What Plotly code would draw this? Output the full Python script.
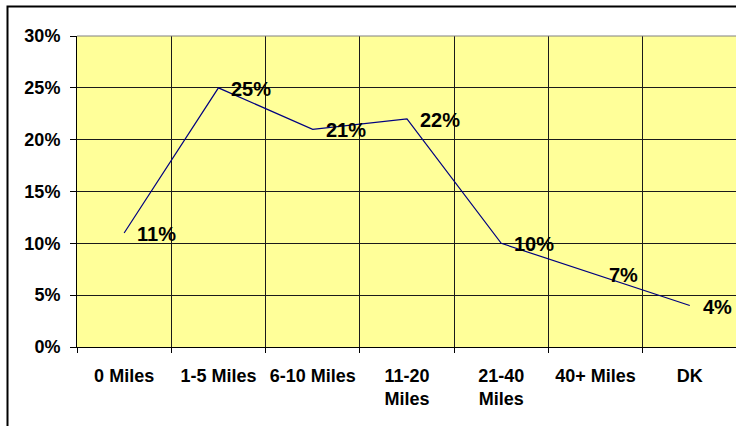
import plotly.graph_objects as go

# Share of respondents by distance band
distance_bands = ["0 Miles", "1-5 Miles", "6-10 Miles", "11-20<br>Miles",
                  "21-40<br>Miles", "40+ Miles", "DK"]
share_pct = [11, 25, 21, 22, 10, 7, 4]
y_ticks = [0, 5, 10, 15, 20, 25, 30]

W, H = 736, 426
L, R, T, B = 77, 0, 36, 79
plot_w = W - L - R
plot_h = H - T - B

font_family = "Liberation Sans, Arial, sans-serif"

fig = go.Figure()
fig.add_trace(go.Scatter(
    x=distance_bands,
    y=share_pct,
    mode="lines",
    line=dict(color="#000080", width=1.2),
    hoverinfo="skip",
    showlegend=False,
))

# value labels to the right of each point
for cat, v in zip(distance_bands, share_pct):
    fig.add_annotation(
        x=cat, y=v, text=f"{v}%",
        showarrow=False, xanchor="left", yanchor="middle",
        xshift=11, yshift=-1,
        font=dict(family=font_family, size=20, color="black", weight="bold"),
    )

# outer chart frame
def px_to_paper_x(px):
    return (px - L) / plot_w

def px_to_paper_y(py):
    return (H - B - py) / plot_h

fig.add_shape(type="rect", xref="paper", yref="paper",
              x0=px_to_paper_x(7.5), x1=px_to_paper_x(760),
              y0=px_to_paper_y(450), y1=px_to_paper_y(6.5),
              line=dict(color="black", width=2), fillcolor="rgba(0,0,0,0)",
              layer="above")
# top edge of plot area
fig.add_shape(type="line", xref="paper", yref="paper",
              x0=0, x1=1, y0=1, y1=1,
              line=dict(color="#808080", width=1), layer="above")

tick_font = dict(family=font_family, size=18, color="black", weight="bold")

fig.update_layout(
    width=W, height=H,
    margin=dict(l=L, r=R, t=T, b=B, pad=0),
    paper_bgcolor="white",
    plot_bgcolor="#FFFF99",
    font=tick_font,
)
fig.update_xaxes(
    type="category",
    range=[-0.5, 6.49],
    tickson="boundaries",
    tickangle=0,
    automargin=False,
    ticks="outside", ticklen=5, tickcolor="black", tickwidth=1,
    showgrid=True, gridcolor="#1a1a1a", gridwidth=1,
    showline=True, linecolor="black", linewidth=1,
    tickfont=tick_font,
    ticklabelstandoff=12,
    zeroline=False,
    fixedrange=True,
)
fig.update_yaxes(
    range=[0, 30],
    tickvals=y_ticks,
    ticktext=[f"{t}%" for t in y_ticks],
    automargin=False,
    ticks="outside", ticklen=6, tickcolor="black", tickwidth=1,
    showgrid=True, gridcolor="#1a1a1a", gridwidth=1,
    showline=True, linecolor="black", linewidth=1,
    tickfont=tick_font,
    ticklabelstandoff=6,
    zeroline=False,
    fixedrange=True,
)

fig.write_html("out.html", config={"displayModeBar": False})
